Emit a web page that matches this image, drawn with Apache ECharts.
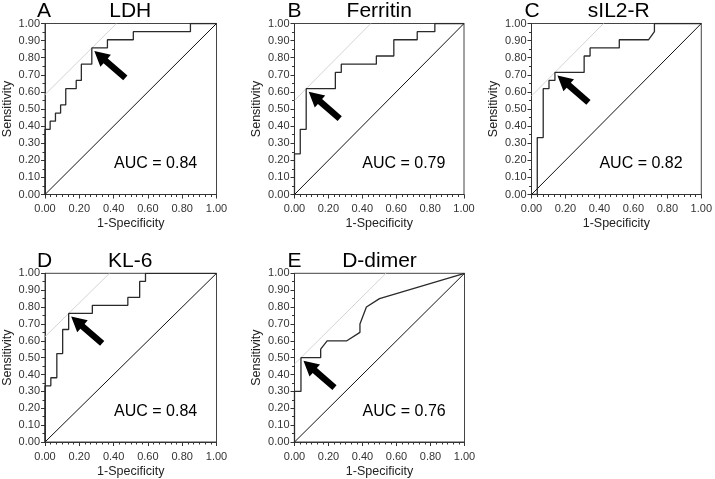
<!DOCTYPE html>
<html>
<head>
<meta charset="utf-8">
<script src="https://cdn.jsdelivr.net/npm/echarts@6/dist/echarts.min.js"></script>
<style>
html,body{margin:0;padding:0;background:#fff;}
#c{width:715px;height:479px;}
</style>
</head>
<body>
<div id="c"></div>
<script>
// ---- data ----
const panelLetters = ['A', 'B', 'C', 'D', 'E'];
const markerNames = ['LDH', 'Ferritin', 'sIL2-R', 'KL-6', 'D-dimer'];
const aucLabels = ['AUC = 0.84', 'AUC = 0.79', 'AUC = 0.82', 'AUC = 0.84', 'AUC = 0.76'];
const axisTicks = [0, 0.2, 0.4, 0.6, 0.8, 1.0];

const fprLDH = [0, 0, 0.030, 0.030, 0.061, 0.061, 0.091, 0.091, 0.121, 0.121, 0.182, 0.182, 0.212, 0.212, 0.273, 0.273, 0.364, 0.364, 0.515, 0.515, 0.848, 0.848, 1];
const tprLDH = [0, 0.381, 0.381, 0.429, 0.429, 0.476, 0.476, 0.524, 0.524, 0.619, 0.619, 0.667, 0.667, 0.762, 0.762, 0.857, 0.857, 0.905, 0.905, 0.952, 0.952, 1, 1];

const fprFerritin = [0, 0, 0.034, 0.034, 0.069, 0.069, 0.241, 0.241, 0.276, 0.276, 0.483, 0.483, 0.586, 0.586, 0.724, 0.724, 0.828, 0.828, 1];
const tprFerritin = [0, 0.238, 0.238, 0.381, 0.381, 0.619, 0.619, 0.714, 0.714, 0.762, 0.762, 0.810, 0.810, 0.905, 0.905, 0.952, 0.952, 1, 1];

const fprSIL2R = [0, 0.034, 0.034, 0.069, 0.069, 0.103, 0.103, 0.138, 0.138, 0.310, 0.310, 0.345, 0.345, 0.517, 0.517, 0.690, 0.724, 0.724, 1];
const tprSIL2R = [0, 0, 0.333, 0.333, 0.619, 0.619, 0.667, 0.667, 0.714, 0.714, 0.810, 0.810, 0.857, 0.857, 0.905, 0.905, 0.952, 1, 1];

const fprKL6 = [0, 0, 0.034, 0.034, 0.069, 0.069, 0.103, 0.103, 0.138, 0.138, 0.276, 0.276, 0.483, 0.483, 0.552, 0.552, 0.586, 0.586, 1];
const tprKL6 = [0, 0.333, 0.333, 0.381, 0.381, 0.524, 0.524, 0.667, 0.667, 0.762, 0.762, 0.810, 0.810, 0.857, 0.857, 0.952, 0.952, 1, 1];

const fprDdimer = [0, 0, 0.038, 0.038, 0.154, 0.154, 0.192, 0.308, 0.385, 0.385, 0.423, 0.500, 1];
const tprDdimer = [0, 0.30, 0.30, 0.50, 0.50, 0.55, 0.60, 0.60, 0.65, 0.70, 0.80, 0.85, 1];

// optimal cut-off points (arrow targets)
const cutoffFpr = [0.273, 0.069, 0.138, 0.138, 0.038];
const cutoffTpr = [0.857, 0.619, 0.714, 0.762, 0.50];

// ---- build ----
const fprs = [fprLDH, fprFerritin, fprSIL2R, fprKL6, fprDdimer];
const tprs = [tprLDH, tprFerritin, tprSIL2R, tprKL6, tprDdimer];

const layout = [
  {left: 44, top: 23.5, width: 172.5, height: 171},
  {left: 294.5, top: 23.5, width: 169.5, height: 171},
  {left: 531.5, top: 23.5, width: 174.5, height: 171},
  {left: 44, top: 273.3, width: 172.5, height: 170},
  {left: 294.5, top: 273.3, width: 170, height: 170}
];

const FONT = '"Liberation Sans", Arial, sans-serif';
const chart = echarts.init(document.getElementById('c'), null, {renderer: 'canvas'});

const grids = [], xAxes = [], yAxes = [], series = [];
layout.forEach((g, i) => {
  grids.push(Object.assign({show: true, borderColor: '#444', borderWidth: 1, backgroundColor: 'transparent'}, g));
  xAxes.push({
    type: 'value', gridIndex: i, min: 0, max: 1, interval: 0.2,
    name: '1-Specificity', nameLocation: 'middle', nameGap: 23,
    nameTextStyle: {fontFamily: FONT, fontSize: 12.5, color: '#222'},
    axisLine: {show: true, lineStyle: {color: '#333', width: 1}},
    axisTick: {show: true, length: 4, lineStyle: {color: '#333'}},
    minorTick: {show: true, splitNumber: 6, length: 2.5, lineStyle: {color: '#333'}},
    splitLine: {show: false},
    axisLabel: {fontFamily: FONT, fontSize: 11, color: '#333', margin: 9,
      formatter: v => axisTicks.some(t => Math.abs(t - v) < 1e-6) ? v.toFixed(2) : ''}
  });
  yAxes.push({
    type: 'value', gridIndex: i, min: 0, max: 1, interval: 0.1,
    name: 'Sensitivity', nameLocation: 'middle', nameGap: 31,
    nameTextStyle: {fontFamily: FONT, fontSize: 12.5, color: '#222'},
    axisLine: {show: true, lineStyle: {color: '#333', width: 1}},
    axisTick: {show: true, length: 4, lineStyle: {color: '#333'}},
    minorTick: {show: true, splitNumber: 2, length: 2.5, lineStyle: {color: '#333'}},
    splitLine: {show: false},
    axisLabel: {fontFamily: FONT, fontSize: 11, color: '#333', margin: 5, formatter: v => v.toFixed(2)}
  });
  const J = cutoffTpr[i] - cutoffFpr[i];
  series.push({
    type: 'line', xAxisIndex: i, yAxisIndex: i, silent: true, symbol: 'none', z: 1,
    lineStyle: {color: '#d4d4d4', width: 1},
    data: [[0, J], [1 - J, 1]]
  });
  series.push({
    type: 'line', xAxisIndex: i, yAxisIndex: i, silent: true, symbol: 'none', z: 2,
    lineStyle: {color: '#111', width: 1},
    data: [[0, 0], [1, 1]]
  });
  series.push({
    type: 'line', xAxisIndex: i, yAxisIndex: i, silent: true, symbol: 'none', z: 3,
    lineStyle: {color: '#2a2a2a', width: 1.3},
    data: fprs[i].map((x, k) => [x, tprs[i][k]])
  });
});

chart.setOption({
  animation: false,
  grid: grids, xAxis: xAxes, yAxis: yAxes, series: series
});

// annotations
const graphics = [];
layout.forEach((g, i) => {
  graphics.push({type: 'text', x: g.left - 7, y: g.top - 12, z: 10,
    style: {text: panelLetters[i], font: '21px ' + FONT, fill: '#000', textVerticalAlign: 'middle'}});
  graphics.push({type: 'text', x: g.left + g.width / 2, y: g.top - 12, z: 10,
    style: {text: markerNames[i], font: '21px ' + FONT, fill: '#000', textAlign: 'center', textVerticalAlign: 'middle'}});
  const ap = chart.convertToPixel({gridIndex: i}, [0.645, 0.18]);
  graphics.push({type: 'text', x: ap[0], y: ap[1], z: 10,
    style: {text: aucLabels[i], font: '16px ' + FONT, fill: '#000', textAlign: 'center', textVerticalAlign: 'middle'}});
  // arrow pointing at the cut-off point
  const p = chart.convertToPixel({gridIndex: i}, [cutoffFpr[i], cutoffTpr[i]]);
  const T = [p[0] + 2.5, p[1] + 3];
  const d = [31, 27], L = Math.hypot(d[0], d[1]);
  const u = [d[0] / L, d[1] / L], v = [-u[1], u[0]];
  const H = 15, W = 8, S = 3.2;
  const pt = (a, b) => [T[0] + a * u[0] + b * v[0], T[1] + a * u[1] + b * v[1]];
  graphics.push({type: 'polygon', z: 11,
    shape: {points: [pt(0, 0), pt(H, W), pt(H, S), pt(L, S), pt(L, -S), pt(H, -S), pt(H, -W)]},
    style: {fill: '#000'}});
});
chart.setOption({graphic: graphics});
</script>
</body>
</html>
